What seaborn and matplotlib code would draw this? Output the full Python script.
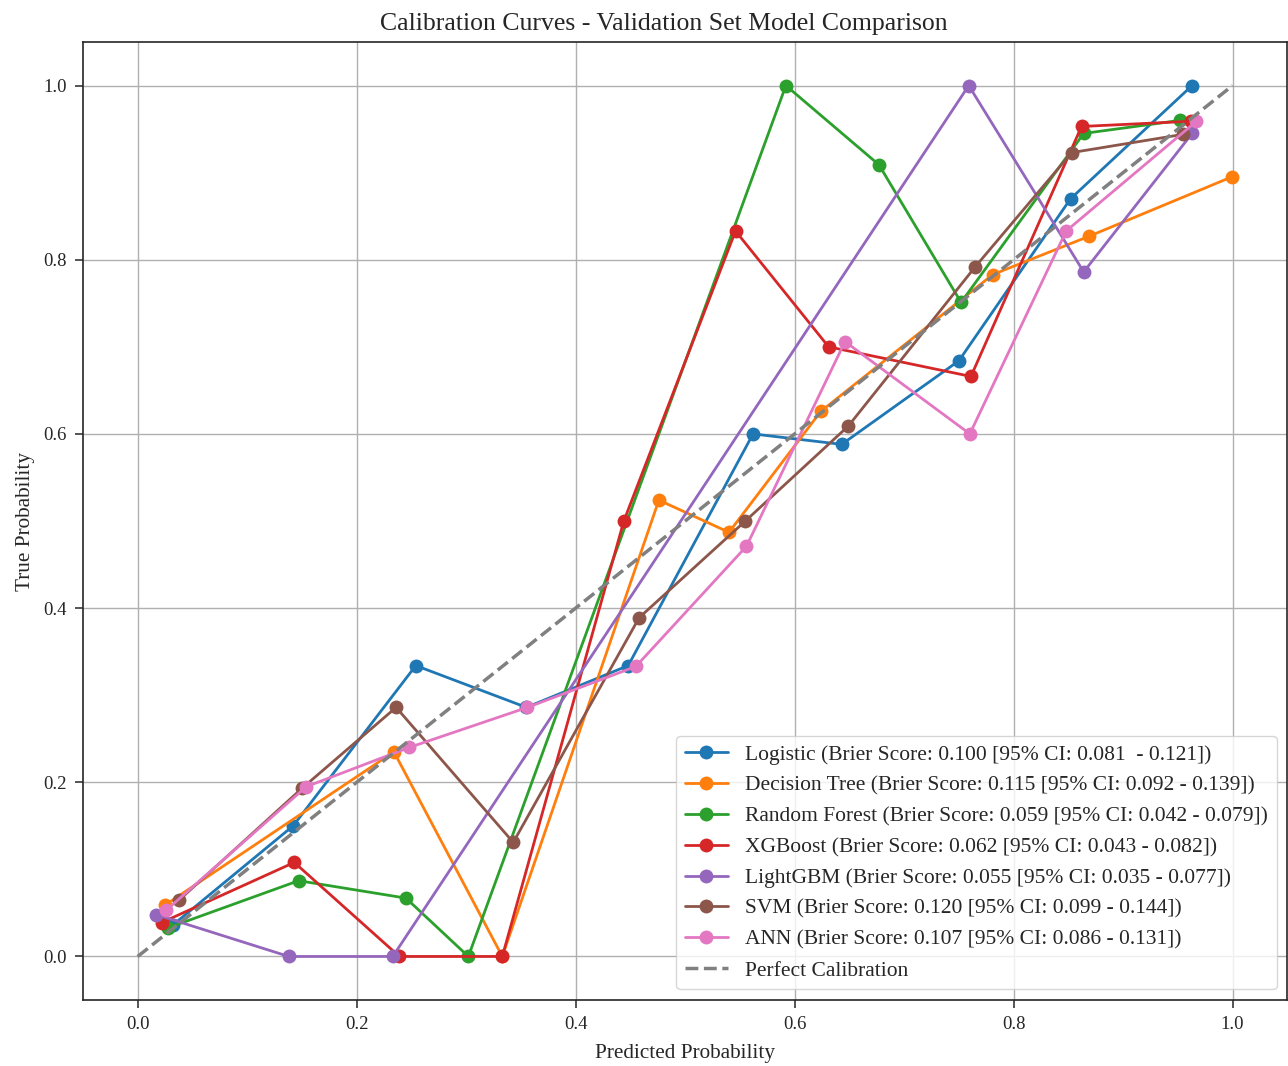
import matplotlib
matplotlib.use("Agg")
import matplotlib.pyplot as plt
import numpy as np
import pandas as pd
import seaborn as sns

# calibration curve points (mean predicted, fraction positive)
logistic_x = [0.032, 0.142, 0.254, 0.355, 0.448, 0.562, 0.643, 0.750, 0.852, 0.963]
logistic_y = [0.036, 0.150, 0.334, 0.286, 0.334, 0.600, 0.588, 0.684, 0.870, 1.000]

tree_x = [0.025, 0.234, 0.333, 0.476, 0.540, 0.624, 0.781, 0.869, 0.999]
tree_y = [0.059, 0.235, 0.000, 0.524, 0.487, 0.626, 0.783, 0.827, 0.895]

forest_x = [0.028, 0.147, 0.245, 0.302, 0.592, 0.677, 0.752, 0.864, 0.952]
forest_y = [0.033, 0.087, 0.067, 0.000, 1.000, 0.909, 0.751, 0.945, 0.960]

xgb_x = [0.022, 0.143, 0.239, 0.333, 0.444, 0.546, 0.631, 0.761, 0.862, 0.962]
xgb_y = [0.039, 0.108, 0.000, 0.000, 0.500, 0.833, 0.700, 0.666, 0.953, 0.959]

lgbm_x = [0.017, 0.138, 0.233, 0.759, 0.864, 0.963]
lgbm_y = [0.048, 0.000, 0.000, 1.000, 0.786, 0.945]

svm_x = [0.038, 0.150, 0.236, 0.343, 0.458, 0.555, 0.649, 0.765, 0.853, 0.955]
svm_y = [0.065, 0.193, 0.286, 0.131, 0.389, 0.500, 0.609, 0.792, 0.923, 0.944]

ann_x = [0.026, 0.154, 0.248, 0.356, 0.455, 0.556, 0.646, 0.760, 0.848, 0.967]
ann_y = [0.053, 0.195, 0.240, 0.286, 0.333, 0.471, 0.706, 0.600, 0.833, 0.959]

labels = [
    "Logistic (Brier Score: 0.100 [95% CI: 0.081  - 0.121])",
    "Decision Tree (Brier Score: 0.115 [95% CI: 0.092 - 0.139])",
    "Random Forest (Brier Score: 0.059 [95% CI: 0.042 - 0.079])",
    "XGBoost (Brier Score: 0.062 [95% CI: 0.043 - 0.082])",
    "LightGBM (Brier Score: 0.055 [95% CI: 0.035 - 0.077])",
    "SVM (Brier Score: 0.120 [95% CI: 0.099 - 0.144])",
    "ANN (Brier Score: 0.107 [95% CI: 0.086 - 0.131])",
]

curves = [
    (logistic_x, logistic_y),
    (tree_x, tree_y),
    (forest_x, forest_y),
    (xgb_x, xgb_y),
    (lgbm_x, lgbm_y),
    (svm_x, svm_y),
    (ann_x, ann_y),
]

sns.set_style("ticks")
plt.rcParams["font.family"] = ["Liberation Serif", "DejaVu Serif"]
plt.rcParams["axes.linewidth"] = 1.2

colors = sns.color_palette("tab10", len(labels))

fig, ax = plt.subplots(figsize=(12.88, 10.66), dpi=100)
fig.subplots_adjust(left=0.0644, right=0.9995, top=0.9606, bottom=0.0619)

for (xs, ys), label, color in zip(curves, labels, colors):
    df = pd.DataFrame({"pred": xs, "true": ys})
    sns.lineplot(data=df, x="pred", y="true", ax=ax, color=color, label=label,
                 marker="o", markersize=10, markeredgewidth=0, linewidth=2,
                 sort=False, estimator=None)

ax.plot([0, 1], [0, 1], linestyle="--", color="gray", linewidth=2.5,
        label="Perfect Calibration")

ax.grid(True, color="#b0b0b0", linewidth=1)
ax.set_title("Calibration Curves - Validation Set Model Comparison", fontsize=18.5,
             x=0.482, pad=9)
ax.set_xlabel("Predicted Probability", fontsize=15.3, labelpad=8)
ax.set_ylabel("True Probability", fontsize=15.3, labelpad=6)
ax.tick_params(labelsize=13.5, length=5.5, width=1.1, pad=6)
ax.legend(loc="lower right", fontsize=15.5)

plt.savefig("out.png", dpi=100)
plt.close()
